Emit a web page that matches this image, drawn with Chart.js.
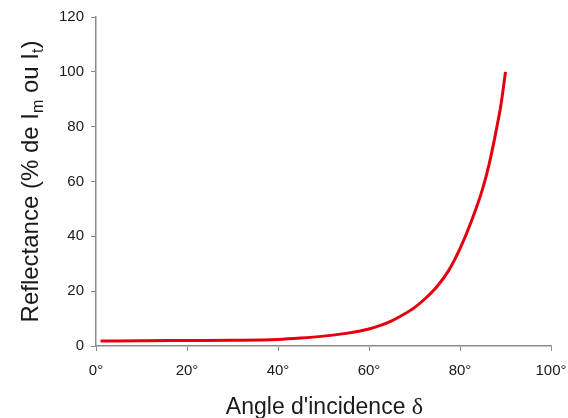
<!DOCTYPE html>
<html>
<head>
<meta charset="utf-8">
<title>Reflectance</title>
<script src="https://cdn.jsdelivr.net/npm/chart.js@4.4.1/dist/chart.umd.min.js"></script>
<style>
  html, body { margin: 0; padding: 0; background: #fff; }
  #wrap { width: 568px; height: 418px; }
</style>
</head>
<body>
<div id="wrap"><canvas id="chart" width="568" height="418"></canvas></div>
<script>
// values
var ANGLES      = [1, 10, 20, 30, 40, 45, 50, 55, 60, 62.5, 65, 67.5, 70, 72.5, 75, 77.5, 80, 82.5, 85, 86.5, 88, 89, 90];
var REFLECTANCE = [1.8, 1.9, 2.0, 2.1, 2.4, 2.9, 3.6, 4.6, 6.2, 7.5, 9.2, 11.4, 14, 17.5, 21.8, 27.5, 35.5, 45.5, 57.5, 67, 79, 88, 100];
var X_TICKS = [0, 20, 40, 60, 80, 100];
var Y_TICKS = [0, 20, 40, 60, 80, 100, 120];

var SANS = '"Liberation Sans", Arial, sans-serif';
var SERIF = '"Liberation Serif", "Times New Roman", serif';
var TEXT = '#1a1a1a';
var AXIS = '#8a8a8a';

// title runs: [text, font, baseline shift]
var Y_TITLE = [
  ['Reflectance (% de I', '24px ' + SANS, 0],
  ['m', '16px ' + SANS, 5],
  [' ou I', '24px ' + SANS, 0],
  ['t', '16px ' + SANS, 5],
  [')', '24px ' + SANS, 0]
];
var X_TITLE = [
  ['Angle d\'incidence ', '23px ' + SANS, 0],
  ['\u03b4', '24px ' + SERIF, 0]
];

function drawRuns(ctx, runs) {
  var total = 0;
  runs.forEach(function (r) { ctx.font = r[1]; total += ctx.measureText(r[0]).width; });
  var x = -total / 2;
  runs.forEach(function (r) {
    ctx.font = r[1];
    ctx.fillText(r[0], x, r[2]);
    x += ctx.measureText(r[0]).width;
  });
}

var axisTitles = {
  id: 'axisTitles',
  afterDraw: function (chart) {
    var ctx = chart.ctx, a = chart.chartArea;
    ctx.save();
    ctx.fillStyle = TEXT;
    ctx.textBaseline = 'alphabetic';
    ctx.textAlign = 'left';
    ctx.save();
    ctx.translate(38, (a.top + a.bottom) / 2);
    ctx.rotate(-Math.PI / 2);
    drawRuns(ctx, Y_TITLE);
    ctx.restore();
    ctx.translate((a.left + a.right) / 2 + 1, 414);
    drawRuns(ctx, X_TITLE);
    ctx.restore();
  }
};

var pts = ANGLES.map(function (a, i) { return { x: a, y: REFLECTANCE[i] }; });

new Chart(document.getElementById('chart').getContext('2d'), {
  type: 'line',
  data: { datasets: [{
    data: pts,
    borderColor: '#e3000f', borderWidth: 3,
    pointRadius: 0, fill: false,
    cubicInterpolationMode: 'monotone'
  }]},
  options: {
    responsive: false, animation: false,
    layout: { padding: { top: 17, right: 17, left: 0, bottom: 0 } },
    plugins: { legend: { display: false }, tooltip: { enabled: false } },
    scales: {
      x: {
        type: 'linear', min: 0, max: 100,
        afterBuildTicks: function (s) { s.ticks = X_TICKS.map(function (v) { return { value: v }; }); },
        afterFit: function (s) { s.height = 72; s.paddingLeft = 0; s.paddingRight = 0; },
        grid: { drawOnChartArea: false, drawTicks: true, tickLength: 5, color: AXIS, lineWidth: 1 },
        border: { color: AXIS, width: 1.5 },
        ticks: { color: TEXT, font: { family: SANS, size: 15 }, padding: 11, maxRotation: 0,
          callback: function (v) { return v + '\u00b0'; } }
      },
      y: {
        min: 0, max: 120,
        afterBuildTicks: function (s) { s.ticks = Y_TICKS.map(function (v) { return { value: v }; }); },
        afterFit: function (s) { s.width = 96; s.paddingTop = 0; s.paddingBottom = 0; },
        grid: { drawOnChartArea: false, drawTicks: true, tickLength: 5, color: AXIS, lineWidth: 1 },
        border: { color: AXIS, width: 1.5 },
        ticks: { color: TEXT, font: { family: SANS, size: 15 }, padding: 7 }
      }
    }
  },
  plugins: [axisTitles]
});
</script>
</body>
</html>
